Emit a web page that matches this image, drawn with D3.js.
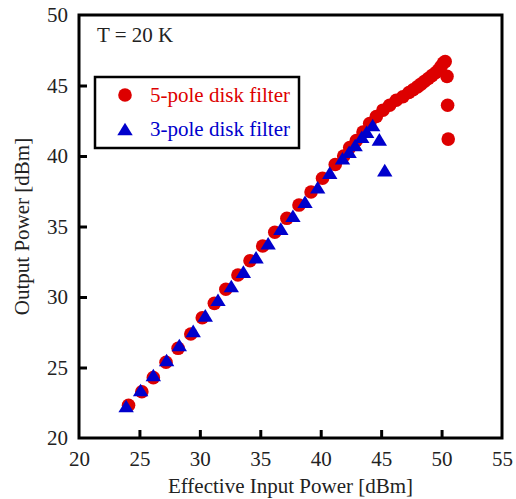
<!DOCTYPE html>
<html>
<head>
<meta charset="utf-8">
<script src="https://cdn.jsdelivr.net/npm/d3@7"></script>
<style>
  body { margin: 0; background: #fff; }
  svg text { font-family: "Liberation Serif", "Times New Roman", serif !important; }
</style>
</head>
<body>
<svg width="516" height="499"></svg>
<script>
const fivePoleX = [24.1, 25.2, 26.15, 27.2, 28.2, 29.25, 30.2, 31.2, 32.15, 33.15, 34.15, 35.2, 36.2, 37.2, 38.2, 39.2, 40.15,
  41.2, 41.9, 42.4, 42.95, 43.5, 44.05, 44.6, 45.15, 45.7, 46.25, 46.8, 47.3, 47.65, 48.0, 48.3, 48.6, 48.9, 49.2, 49.5,
  49.75, 49.95, 50.15, 50.3, 50.45, 50.5, 50.55];
const fivePoleY = [22.32, 23.28, 24.28, 25.37, 26.36, 27.38, 28.53, 29.55, 30.55, 31.56, 32.57, 33.62, 34.59, 35.58, 36.52, 37.45, 38.42,
  39.4, 40.0, 40.6, 41.1, 41.7, 42.3, 42.8, 43.25, 43.6, 43.95, 44.2, 44.5, 44.7, 44.9, 45.1, 45.3, 45.5, 45.7, 45.9,
  46.1, 46.35, 46.6, 46.7, 45.65, 43.6, 41.2];

const threePoleX = [23.9, 25.1, 26.15, 27.25, 28.3, 29.45, 30.45, 31.5, 32.6, 33.6, 34.65, 35.65, 36.7, 37.7, 38.7,
  39.75, 40.75, 41.8, 42.35, 42.85, 43.4, 43.8, 44.3, 44.85, 45.3];
const threePoleY = [22.27, 23.4, 24.47, 25.53, 26.6, 27.6, 28.7, 29.8, 30.78, 31.8, 32.82, 33.81, 34.85, 35.76, 36.76,
  37.78, 38.82, 39.84, 40.3, 40.78, 41.37, 41.72, 42.2, 41.18, 39.0];

const xTicks = [20, 25, 30, 35, 40, 45, 50, 55];
const yTicks = [20, 25, 30, 35, 40, 45, 50];

const font = '"Liberation Serif", "Times New Roman", serif';
const svg = d3.select('svg');
const margin = { top: 15, left: 79, right: 14, bottom: 61 };
const width = +svg.attr('width');
const height = +svg.attr('height');
const innerWidth = width - margin.left - margin.right;
const innerHeight = height - margin.top - margin.bottom;

const root = svg.append('g')
  .attr('transform', `translate(${margin.left}, ${margin.top})`)
  .attr('font-family', font);

const xScale = d3.scaleLinear().domain([20, 55]).range([0, innerWidth]);
const yScale = d3.scaleLinear().domain([20, 50]).range([innerHeight, 0]);

const xAxis = d3.axisBottom(xScale)
  .tickValues(xTicks)
  .tickSize(-8)
  .tickPadding(13);
const yAxis = d3.axisLeft(yScale)
  .tickValues(yTicks)
  .tickSize(-8)
  .tickPadding(11);

const xAxisGroup = root.append('g')
  .attr('transform', `translate(0, ${innerHeight})`)
  .call(xAxis);
const yAxisGroup = root.append('g').call(yAxis);

[xAxisGroup, yAxisGroup].forEach(g => {
  g.attr('font-family', font).attr('font-size', 21);
  g.select('.domain').remove();
  g.selectAll('.tick line')
    .attr('stroke', '#000')
    .attr('stroke-width', 3);
  g.selectAll('.tick text')
    .style('font-family', font)
    .style('font-size', '21px')
    .attr('fill', '#222');
});
xAxisGroup.selectAll('.tick line').filter(d => d === 20 || d === 55).remove();
yAxisGroup.selectAll('.tick line').filter(d => d === 20 || d === 50).remove();

root.append('rect')
  .attr('width', innerWidth)
  .attr('height', innerHeight)
  .attr('fill', 'none')
  .attr('stroke', '#000')
  .attr('stroke-width', 3);

root.append('text')
  .attr('x', innerWidth / 2)
  .attr('y', innerHeight + 55)
  .attr('text-anchor', 'middle')
  .attr('font-size', 21)
  .attr('fill', '#222')
  .text('Effective Input Power [dBm]');

root.append('text')
  .attr('transform', `translate(${-50}, ${innerHeight / 2}) rotate(-90)`)
  .attr('text-anchor', 'middle')
  .attr('font-size', 21)
  .attr('fill', '#222')
  .text('Output Power [dBm]');

root.append('text')
  .attr('x', 18)
  .attr('y', 27)
  .attr('font-size', 21)
  .attr('fill', '#222')
  .text('T = 20 K');

const red = '#dd0000';
const blue = '#0000cc';

const tri = s => `M0,${-s * 0.45}L${s * 0.55},${s * 0.45}L${-s * 0.55},${s * 0.45}Z`;

const fivePole = fivePoleX.map((x, i) => ({ x, y: fivePoleY[i] }));
const threePole = threePoleX.map((x, i) => ({ x, y: threePoleY[i] }));

root.selectAll('circle.five')
  .data(fivePole)
  .enter()
  .append('circle')
    .attr('class', 'five')
    .attr('r', 6.8)
    .attr('cx', d => xScale(d.x))
    .attr('cy', d => yScale(d.y))
    .attr('fill', red);

root.selectAll('path.three')
  .data(threePole)
  .enter()
  .append('path')
    .attr('class', 'three')
    .attr('d', tri(14))
    .attr('transform', d => `translate(${xScale(d.x)}, ${yScale(d.y)})`)
    .attr('fill', blue);

// legend
const legend = root.append('g').attr('transform', 'translate(16, 62)');
legend.append('rect')
  .attr('width', 204)
  .attr('height', 71)
  .attr('fill', '#fff')
  .attr('stroke', '#000')
  .attr('stroke-width', 2.5);
legend.append('circle')
  .attr('cx', 30).attr('cy', 18).attr('r', 6.8).attr('fill', red);
legend.append('text')
  .attr('x', 55).attr('y', 25)
  .attr('font-size', 21)
  .attr('fill', red)
  .text('5-pole disk filter');
legend.append('path')
  .attr('d', tri(14))
  .attr('transform', 'translate(30, 52)')
  .attr('fill', blue);
legend.append('text')
  .attr('x', 55).attr('y', 59)
  .attr('font-size', 21)
  .attr('fill', blue)
  .text('3-pole disk filter');
</script>
</body>
</html>
